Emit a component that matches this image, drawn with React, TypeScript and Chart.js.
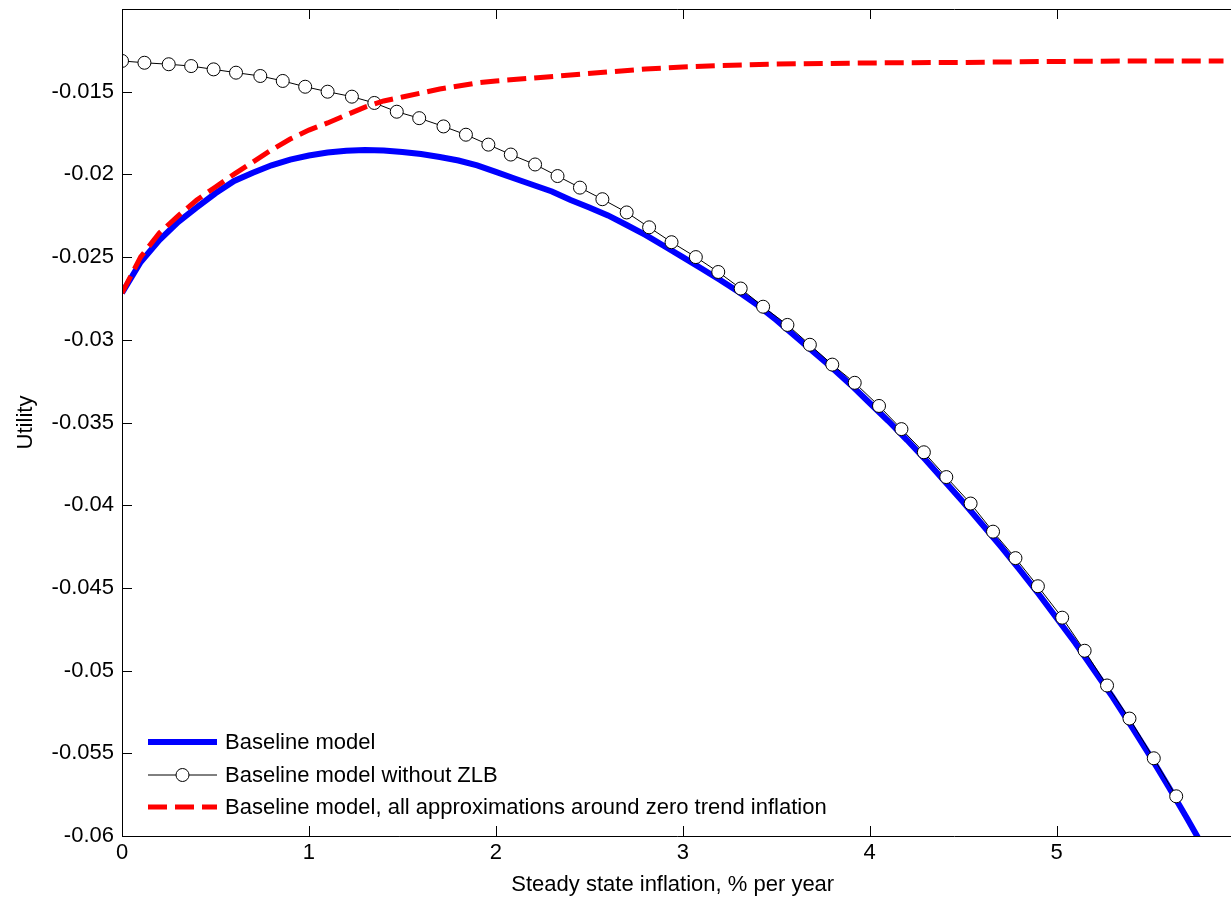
import { useEffect, useRef } from 'react';
import { Chart, registerables } from 'chart.js';

Chart.register(...registerables);

// Baseline model (blue solid)
const blueX = [0, 0.1, 0.2, 0.3, 0.4, 0.5, 0.6, 0.7, 0.8, 0.9, 1.0, 1.1, 1.2, 1.3, 1.4, 1.5, 1.6, 1.7, 1.8, 1.9, 2.0, 2.1, 2.2, 2.3, 2.4, 2.5, 2.6, 2.7, 2.8, 2.9, 3.0, 3.1, 3.2, 3.3, 3.4, 3.5, 3.6, 3.7, 3.8, 3.9, 4.0, 4.1, 4.2, 4.3, 4.4, 4.5, 4.6, 4.7, 4.8, 4.9, 5.0, 5.1, 5.2, 5.3, 5.4, 5.5, 5.6, 5.7, 5.8];
const blueY = [-0.02717, -0.0253, -0.02397, -0.02288, -0.022, -0.02114, -0.0204, -0.0199, -0.01945, -0.01911, -0.01886, -0.01868, -0.01857, -0.01852, -0.01855, -0.01864, -0.01877, -0.01895, -0.01916, -0.01946, -0.01985, -0.02025, -0.02064, -0.02103, -0.02155, -0.022, -0.02248, -0.02306, -0.02366, -0.02433, -0.025, -0.02569, -0.02638, -0.02711, -0.0279, -0.0288, -0.02977, -0.03074, -0.0317, -0.03273, -0.03382, -0.03491, -0.03606, -0.03727, -0.03854, -0.03981, -0.04114, -0.04247, -0.04386, -0.04531, -0.04682, -0.04833, -0.04996, -0.0516, -0.05335, -0.05516, -0.05704, -0.05897, -0.06097];

// Baseline model without ZLB (circles)
const zlbX = [0, 0.12, 0.25, 0.37, 0.49, 0.61, 0.74, 0.86, 0.98, 1.10, 1.23, 1.35, 1.47, 1.59, 1.72, 1.84, 1.96, 2.08, 2.21, 2.33, 2.45, 2.57, 2.70, 2.82, 2.94, 3.07, 3.19, 3.31, 3.43, 3.56, 3.68, 3.80, 3.92, 4.05, 4.17, 4.29, 4.41, 4.54, 4.66, 4.78, 4.90, 5.03, 5.15, 5.27, 5.39, 5.52, 5.64];
const zlbY = [-0.01314, -0.01325, -0.01334, -0.01345, -0.01365, -0.01385, -0.01405, -0.01435, -0.0147, -0.015, -0.0153, -0.01568, -0.01621, -0.0166, -0.0171, -0.0176, -0.0182, -0.0188, -0.0194, -0.0201, -0.0208, -0.0215, -0.0223, -0.0232, -0.0241, -0.025, -0.0259, -0.0269, -0.028, -0.0291, -0.0303, -0.0315, -0.0326, -0.034, -0.0354, -0.0368, -0.0383, -0.0399, -0.0416, -0.0432, -0.0449, -0.0468, -0.0488, -0.0509, -0.0529, -0.0553, -0.0576];

// Baseline model, all approximations around zero trend inflation (red dashed)
const redX = [0, 0.1, 0.2, 0.3, 0.4, 0.5, 0.6, 0.7, 0.8, 0.9, 1.0, 1.1, 1.2, 1.3, 1.4, 1.5, 1.6, 1.7, 1.8, 1.9, 2.0, 2.2, 2.4, 2.6, 2.8, 3.0, 3.2, 3.5, 4.0, 4.5, 5.0, 5.5, 5.9];
const redY = [-0.02717, -0.02499, -0.02354, -0.02251, -0.02155, -0.02076, -0.01998, -0.01925, -0.01852, -0.01786, -0.01732, -0.01689, -0.01641, -0.01593, -0.01556, -0.01532, -0.01508, -0.01484, -0.01466, -0.01447, -0.01435, -0.01417, -0.01399, -0.01381, -0.01363, -0.01351, -0.01342, -0.01333, -0.01326, -0.01323, -0.01317, -0.01314, -0.01314];

const seriesLabels = [
  'Baseline model',
  'Baseline model without ZLB',
  'Baseline model, all approximations around zero trend inflation',
];

const xTicks = [0, 1, 2, 3, 4, 5];
const xTickLabels = ['0', '1', '2', '3', '4', '5'];
const yTicks = [-0.06, -0.055, -0.05, -0.045, -0.04, -0.035, -0.03, -0.025, -0.02, -0.015];
const yTickLabels = ['-0.06', '-0.055', '-0.05', '-0.045', '-0.04', '-0.035', '-0.03', '-0.025', '-0.02', '-0.015'];

const xTitle = 'Steady state inflation, % per year';
const yTitle = 'Utility';

const FONT = "'Liberation Sans', Arial, Helvetica, sans-serif";
const FS = 22;

const framePlugin = {
  id: 'frameAndLegend',
  afterDraw(chart: any) {
    const { ctx, chartArea: a, scales } = chart;
    const x = scales.x;
    const y = scales.y;
    ctx.save();
    ctx.strokeStyle = '#000';
    ctx.lineWidth = 1;
    ctx.beginPath();
    ctx.moveTo(chart.width + 2, a.top + 0.5);
    ctx.lineTo(a.left + 0.5, a.top + 0.5);
    ctx.lineTo(a.left + 0.5, a.bottom + 0.5);
    ctx.lineTo(chart.width + 2, a.bottom + 0.5);
    ctx.stroke();
    ctx.beginPath();
    x.ticks.forEach((t: any) => {
      const px = Math.round(x.getPixelForValue(t.value)) + 0.5;
      ctx.moveTo(px, a.bottom);
      ctx.lineTo(px, a.bottom - 10);
      ctx.moveTo(px, a.top);
      ctx.lineTo(px, a.top + 10);
    });
    y.ticks.forEach((t: any) => {
      const py = Math.round(y.getPixelForValue(t.value)) + 0.5;
      ctx.moveTo(a.left, py);
      ctx.lineTo(a.left + 10, py);
    });
    ctx.stroke();

    // legend (inside axes, bottom-left, no box)
    const ds = chart.data.datasets;
    const x0 = 148;
    const x1 = 217;
    const rows = [742, 775, 807];
    ctx.font = `${FS}px ${FONT}`;
    ctx.fillStyle = '#000';
    ctx.textBaseline = 'middle';
    ctx.textAlign = 'left';
    ds.forEach((d: any, i: number) => {
      const ry = rows[i];
      ctx.save();
      ctx.strokeStyle = d.borderColor;
      ctx.lineWidth = d.borderWidth;
      ctx.setLineDash(d.borderDash || []);
      ctx.beginPath();
      ctx.moveTo(x0, ry);
      ctx.lineTo(x1, ry);
      ctx.stroke();
      ctx.setLineDash([]);
      if (d.pointRadius > 0) {
        ctx.beginPath();
        ctx.arc((x0 + x1) / 2, ry, d.pointRadius, 0, Math.PI * 2);
        ctx.fillStyle = d.pointBackgroundColor;
        ctx.fill();
        ctx.lineWidth = d.pointBorderWidth;
        ctx.strokeStyle = d.pointBorderColor;
        ctx.stroke();
      }
      ctx.restore();
      ctx.fillText(d.label, 225, ry + 1);
    });
    ctx.restore();
  },
};

export default function App() {
  const ref = useRef<HTMLCanvasElement | null>(null);
  useEffect(() => {
    if (!ref.current) return;
    Chart.defaults.font.family = FONT;
    Chart.defaults.color = '#000';
    const chart = new Chart(ref.current, {
      type: 'line',
      data: {
        datasets: [
          {
            label: seriesLabels[0],
            data: blueX.map((v, i) => ({ x: v, y: blueY[i] })),
            borderColor: '#0000ff',
            borderWidth: 6,
            pointRadius: 0,
            fill: false,
            tension: 0,
            order: 3,
          },
          {
            label: seriesLabels[1],
            data: zlbX.map((v, i) => ({ x: v, y: zlbY[i] })),
            borderColor: '#000000',
            borderWidth: 1,
            pointRadius: 6.5,
            pointBackgroundColor: '#ffffff',
            pointBorderColor: '#000000',
            pointBorderWidth: 1,
            fill: false,
            tension: 0,
            order: 2,
          },
          {
            label: seriesLabels[2],
            data: redX.map((v, i) => ({ x: v, y: redY[i] })),
            borderColor: '#ff0000',
            borderWidth: 5,
            borderDash: [19, 8],
            pointRadius: 0,
            fill: false,
            tension: 0,
            order: 1,
          },
        ] as any,
      },
      options: {
        animation: false,
        responsive: false,
        devicePixelRatio: 1,
        layout: { padding: { top: 9, left: 0, right: 0, bottom: 0 } },
        plugins: { legend: { display: false }, tooltip: { enabled: false } },
        scales: {
          x: {
            type: 'linear',
            min: 0,
            max: 5.893,
            grid: { display: false, drawTicks: false },
            border: { display: false },
            afterBuildTicks: (s: any) => {
              s.ticks = xTicks.map((v) => ({ value: v }));
            },
            afterFit: (s: any) => {
              s.height = 62;
              s.paddingLeft = 0;
              s.paddingRight = 0;
              s.paddingTop = 0;
              s.paddingBottom = 0;
            },
            ticks: {
              padding: 4,
              font: { size: FS },
              color: '#000',
              maxRotation: 0,
              autoSkip: false,
              callback: (_v: any, i: number) => xTickLabels[i],
            },
            title: {
              display: true,
              text: xTitle,
              font: { size: FS },
              color: '#000',
              padding: { top: 0, bottom: 0 },
            },
          },
          y: {
            type: 'linear',
            min: -0.06,
            max: -0.01,
            grid: { display: false, drawTicks: false },
            border: { display: false },
            afterBuildTicks: (s: any) => {
              s.ticks = yTicks.map((v) => ({ value: v }));
            },
            afterFit: (s: any) => {
              s.width = 122;
              s.paddingLeft = 0;
              s.paddingRight = 0;
              s.paddingTop = 0;
              s.paddingBottom = 0;
            },
            ticks: {
              padding: 8,
              font: { size: FS },
              color: '#000',
              autoSkip: false,
              callback: (_v: any, i: number) => yTickLabels[i],
            },
            title: {
              display: true,
              text: yTitle,
              font: { size: FS },
              color: '#000',
              padding: { top: 13, bottom: 0 },
            },
          },
        },
      } as any,
      plugins: [framePlugin],
    });
    return () => chart.destroy();
  }, []);
  return (
    <div style={{ position: 'absolute', left: 0, top: 0, width: 1231, height: 898, background: '#fff' }}>
      <canvas ref={ref} width={1231} height={898} style={{ display: 'block', width: 1231, height: 898 }} />
    </div>
  );
}
